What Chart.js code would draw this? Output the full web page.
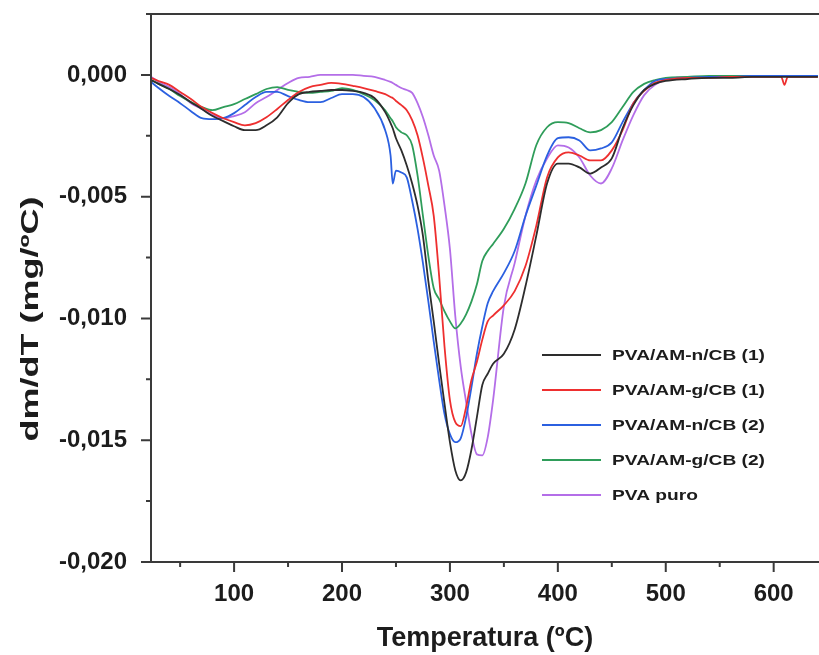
<!DOCTYPE html>
<html>
<head>
<meta charset="utf-8">
<script src="https://cdn.jsdelivr.net/npm/chart.js@4.4.0/dist/chart.umd.min.js"></script>
<style>
  html, body { margin: 0; padding: 0; background: #fff; }
  #wrap { width: 819px; height: 655px; }
</style>
</head>
<body>
<div id="wrap"><canvas id="dtg"></canvas></div>
<script>
// ---- DTG data, x in ºC, y in mg/ºC ----
const temps = [23,30,40,50,60,70,80,90,100,110,120,130,140,150,160,170,180,190,200,210,220,230,240,245,247,250,255,260,265,270,275,280,285,290,295,300,305,310,315,320,325,330,335,340,350,360,370,380,390,400,410,420,430,440,450,460,470,480,490,500,520,540,560,580,600,607,610,613,620,641];

const amN1 = [-0.00021,-0.00037,-0.00058,-0.00083,-0.00112,-0.00140,-0.00169,-0.00190,-0.00211,-0.00227,-0.00227,-0.00207,-0.00174,-0.00116,-0.00079,-0.00070,-0.00066,-0.00062,-0.00062,-0.00066,-0.00074,-0.00095,-0.00153,-0.00198,-0.00219,-0.00260,-0.00310,-0.00372,-0.00446,-0.00537,-0.00661,-0.00847,-0.01012,-0.01186,-0.01351,-0.01508,-0.01624,-0.01665,-0.01632,-0.01537,-0.01405,-0.01273,-0.01227,-0.01186,-0.01145,-0.01045,-0.00868,-0.00661,-0.00446,-0.00364,-0.00364,-0.00380,-0.00405,-0.00380,-0.00343,-0.00219,-0.00124,-0.00062,-0.00037,-0.00025,-0.00017,-0.00012,-0.00012,-0.00008,-0.00008,-0.00008,-0.00008,-0.00008,-0.00008,-0.00008];

const amG1 = [-0.00012,-0.00025,-0.00041,-0.00070,-0.00099,-0.00132,-0.00157,-0.00178,-0.00194,-0.00207,-0.00198,-0.00174,-0.00140,-0.00103,-0.00070,-0.00050,-0.00041,-0.00033,-0.00037,-0.00045,-0.00054,-0.00066,-0.00079,-0.00091,-0.00095,-0.00107,-0.00124,-0.00145,-0.00186,-0.00248,-0.00343,-0.00455,-0.00579,-0.00826,-0.01116,-0.01335,-0.01426,-0.01442,-0.01364,-0.01252,-0.01178,-0.01087,-0.01012,-0.00988,-0.00946,-0.00888,-0.00785,-0.00620,-0.00421,-0.00339,-0.00318,-0.00331,-0.00351,-0.00351,-0.00310,-0.00227,-0.00116,-0.00066,-0.00033,-0.00021,-0.00012,-0.00012,-0.00008,-0.00008,-0.00008,-0.00008,-0.00041,-0.00008,-0.00008,-0.00008];

const amN2 = [-0.00029,-0.00054,-0.00087,-0.00116,-0.00149,-0.00178,-0.00182,-0.00178,-0.00157,-0.00124,-0.00091,-0.00070,-0.00070,-0.00087,-0.00103,-0.00112,-0.00112,-0.00095,-0.00079,-0.00079,-0.00091,-0.00136,-0.00227,-0.00331,-0.00446,-0.00393,-0.00401,-0.00421,-0.00517,-0.00632,-0.00773,-0.00930,-0.01095,-0.01252,-0.01393,-0.01475,-0.01508,-0.01492,-0.01405,-0.01281,-0.01145,-0.01033,-0.00938,-0.00888,-0.00814,-0.00723,-0.00579,-0.00455,-0.00331,-0.00260,-0.00256,-0.00269,-0.00310,-0.00302,-0.00277,-0.00194,-0.00116,-0.00062,-0.00025,-0.00017,-0.00012,-0.00008,-0.00008,-0.00004,-0.00004,-0.00004,-0.00004,-0.00004,-0.00004,-0.00004];

const amG2 = [-0.00021,-0.00037,-0.00058,-0.00087,-0.00112,-0.00132,-0.00145,-0.00132,-0.00120,-0.00099,-0.00079,-0.00058,-0.00050,-0.00062,-0.00070,-0.00074,-0.00070,-0.00066,-0.00054,-0.00062,-0.00079,-0.00103,-0.00145,-0.00178,-0.00190,-0.00215,-0.00236,-0.00248,-0.00289,-0.00413,-0.00579,-0.00744,-0.00876,-0.00921,-0.00971,-0.01012,-0.01041,-0.01021,-0.00983,-0.00930,-0.00860,-0.00764,-0.00723,-0.00694,-0.00632,-0.00550,-0.00446,-0.00289,-0.00215,-0.00194,-0.00198,-0.00219,-0.00236,-0.00227,-0.00194,-0.00132,-0.00070,-0.00037,-0.00021,-0.00012,-0.00008,-0.00004,-0.00004,-0.00004,-0.00004,-0.00004,-0.00004,-0.00004,-0.00004,-0.00004];

const pvaPuro = [-0.00008,-0.00029,-0.00050,-0.00079,-0.00116,-0.00140,-0.00165,-0.00178,-0.00169,-0.00153,-0.00116,-0.00091,-0.00062,-0.00033,-0.00012,-0.00008,0,0,0,0,-0.00004,-0.00008,-0.00021,-0.00029,-0.00033,-0.00041,-0.00054,-0.00062,-0.00074,-0.00116,-0.00174,-0.00248,-0.00331,-0.00393,-0.00537,-0.00715,-0.00992,-0.01198,-0.01343,-0.01475,-0.01558,-0.01562,-0.01488,-0.01335,-0.00950,-0.00773,-0.00579,-0.00434,-0.00343,-0.00289,-0.00298,-0.00339,-0.00413,-0.00446,-0.00384,-0.00269,-0.00165,-0.00083,-0.00041,-0.00021,-0.00008,-0.00008,-0.00004,-0.00004,-0.00004,-0.00004,-0.00004,-0.00004,-0.00004,-0.00004];

const seriesNames  = ['PVA/AM-n/CB (1)', 'PVA/AM-g/CB (1)', 'PVA/AM-n/CB (2)', 'PVA/AM-g/CB (2)', 'PVA puro'];
const seriesValues = [amN1, amG1, amN2, amG2, pvaPuro];
const seriesColors = ['#2d2d2d', '#ee2f2f', '#2b60e0', '#2f9d5a', '#b46ee8'];

const xTicks      = [100, 200, 300, 400, 500, 600];
const xMinorTicks = [50, 150, 250, 350, 450, 550];
const yTicks      = [-0.02, -0.015, -0.01, -0.005, 0];
const yMinorTicks = [-0.0175, -0.0125, -0.0075, -0.0025, 0.0025];

const FONT = "'Liberation Sans', Arial, sans-serif";
const INK  = '#1c1c1c';

// frame (top/left/bottom), major + minor outward ticks
const framePlugin = {
  id: 'frame',
  afterDraw(chart) {
    const { ctx, chartArea: a, scales: { x, y } } = chart;
    ctx.save();
    ctx.strokeStyle = '#3a3a3a';
    ctx.lineWidth = 2;
    ctx.beginPath();
    ctx.moveTo(a.right, a.top);
    ctx.lineTo(a.left, a.top);
    ctx.lineTo(a.left, a.bottom);
    ctx.lineTo(a.right, a.bottom);
    ctx.stroke();

    ctx.beginPath();
    xTicks.forEach(v => { const p = x.getPixelForValue(v); ctx.moveTo(p, a.bottom); ctx.lineTo(p, a.bottom + 10); });
    xMinorTicks.forEach(v => { const p = x.getPixelForValue(v); ctx.moveTo(p, a.bottom); ctx.lineTo(p, a.bottom + 5); });
    yTicks.forEach(v => { const p = y.getPixelForValue(v); ctx.moveTo(a.left, p); ctx.lineTo(a.left - 10, p); });
    yMinorTicks.forEach(v => { const p = y.getPixelForValue(v); ctx.moveTo(a.left, p); ctx.lineTo(a.left - 5, p); });
    ctx.stroke();
    ctx.restore();
  }
};

// y title is drawn stretched along its length, as in the figure
const yTitlePlugin = {
  id: 'yTitle',
  afterDraw(chart) {
    const ctx = chart.ctx;
    ctx.save();
    ctx.font = 'bold 24px ' + FONT;
    ctx.fillStyle = INK;
    ctx.textAlign = 'center';
    ctx.textBaseline = 'middle';
    ctx.translate(31, 319);
    ctx.rotate(-Math.PI / 2);
    ctx.scale(1.5, 1);
    ctx.fillText('dm/dT (mg/ºC)', 0, 0);
    ctx.restore();
  }
};

// legend box inside the plot, lower right
const legendPlugin = {
  id: 'innerLegend',
  afterDraw(chart) {
    const ctx = chart.ctx;
    ctx.save();
    ctx.font = 'bold 14px ' + FONT;
    const sx = 153 / ctx.measureText(seriesNames[0]).width;
    seriesNames.forEach((name, i) => {
      const yc = 355 + i * 35;
      ctx.strokeStyle = seriesColors[i];
      ctx.lineWidth = 2;
      ctx.beginPath();
      ctx.moveTo(542, yc);
      ctx.lineTo(601, yc);
      ctx.stroke();
      ctx.save();
      ctx.translate(612, yc + 1);
      ctx.scale(sx, 1);
      ctx.fillStyle = INK;
      ctx.textAlign = 'left';
      ctx.textBaseline = 'middle';
      ctx.fillText(name, 0, 0);
      ctx.restore();
    });
    ctx.restore();
  }
};

const datasets = seriesNames.map((name, i) => ({
  label: name,
  data: temps.map((t, k) => ({ x: t, y: seriesValues[i][k] })),
  borderColor: seriesColors[i],
  borderWidth: 1.8,
  pointRadius: 0,
  cubicInterpolationMode: 'monotone',
  fill: false,
}));

function noEdgePadding(s) {
  s.paddingTop = 0;
  s.paddingBottom = 0;
  s.paddingLeft = 0;
  s.paddingRight = 0;
}

new Chart(document.getElementById('dtg'), {
  type: 'line',
  data: { datasets },
  plugins: [framePlugin, yTitlePlugin, legendPlugin],
  options: {
    responsive: true,
    maintainAspectRatio: false,
    animation: false,
    layout: { padding: { left: 0, right: 0, top: 14, bottom: 0 } },
    plugins: {
      legend: { display: false },
      tooltip: { enabled: false },
    },
    scales: {
      x: {
        type: 'linear',
        min: 23,
        max: 642,
        afterFit: s => { s.height = 93; noEdgePadding(s); },
        afterBuildTicks: s => { s.ticks = xTicks.map(v => ({ value: v })); },
        grid: { display: false },
        border: { display: false },
        ticks: {
          autoSkip: false,
          maxRotation: 0,
          padding: 10,
          color: INK,
          font: { family: FONT, size: 24, weight: 'bold' },
        },
        title: {
          display: true,
          text: 'Temperatura (ºC)',
          color: INK,
          padding: 0,
          font: { family: FONT, size: 27, weight: 'bold' },
        },
      },
      y: {
        min: -0.02,
        max: 0.0025,
        afterFit: s => { s.width = 151; noEdgePadding(s); },
        afterBuildTicks: s => { s.ticks = yTicks.map(v => ({ value: v })); },
        grid: { display: false },
        border: { display: false },
        ticks: {
          padding: 16,
          color: INK,
          font: { family: FONT, size: 24, weight: 'bold' },
          callback: v => v.toFixed(3).replace('.', ','),
        },
      },
    },
  },
});
</script>
</body>
</html>
